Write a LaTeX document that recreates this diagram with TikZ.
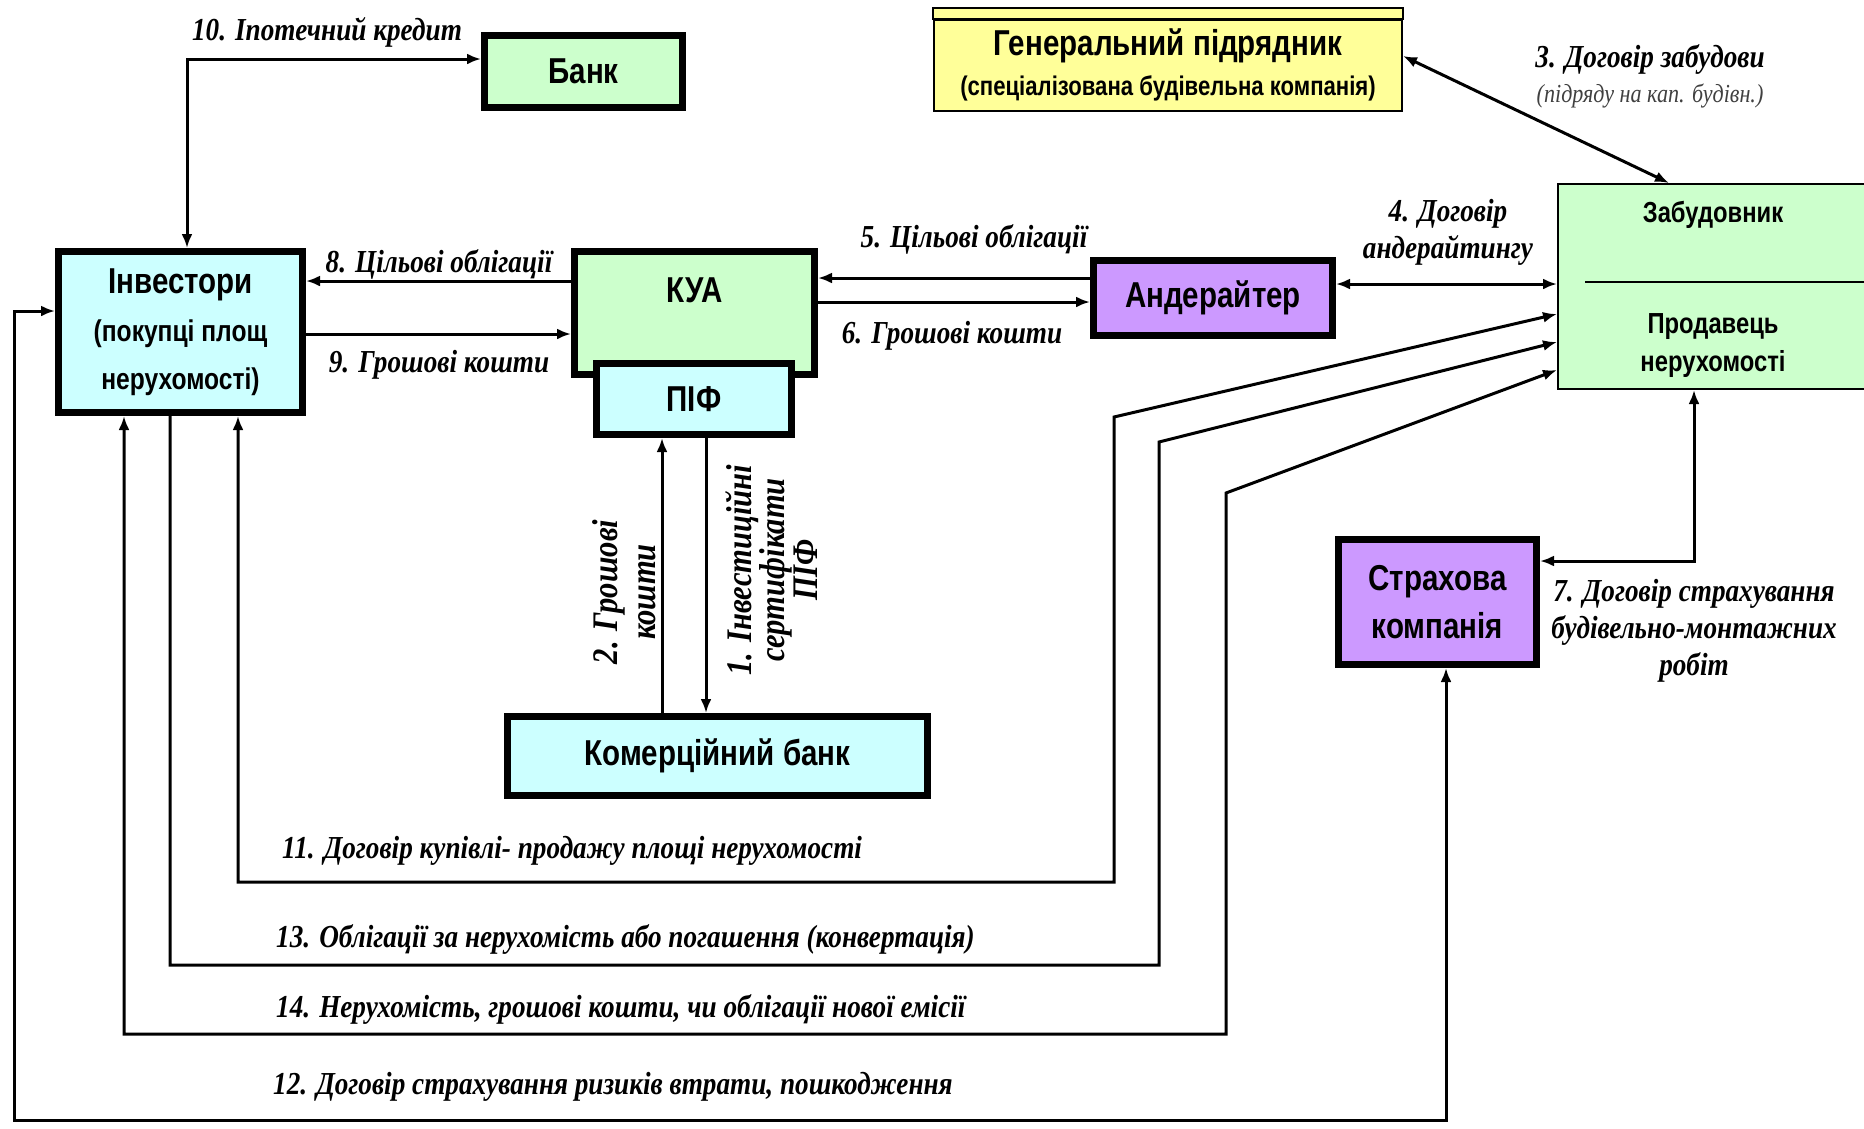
\documentclass[tikz,border=0pt]{standalone}
\usepackage{fontspec}
\setmainfont{Liberation Serif}
\newfontfamily\boxfont[FakeStretch=0.82]{Liberation Sans}
\newfontfamily\lblfont[FakeStretch=0.85]{Liberation Serif}
\usetikzlibrary{arrows.meta, calc}

\definecolor{kcyan}{HTML}{CCFFFF}
\definecolor{kgreen}{HTML}{CCFFCC}
\definecolor{kviolet}{HTML}{CC99FF}
\definecolor{kyellow}{HTML}{FFFF99}

\begin{document}
\begin{tikzpicture}[x=1pt, y=-1pt,
  box/.style={draw, line width=7pt, inner sep=0pt, align=center,
    font=\boxfont\bfseries\fontsize{36}{48}\selectfont},
  thinbox/.style={draw, line width=2pt, inner sep=0pt, align=center},
  zabtext/.style={font=\boxfont\bfseries\fontsize{29}{38}\selectfont, align=center},
  lbl/.style={font=\lblfont\bfseries\itshape\fontsize{32}{37}\selectfont,
    inner sep=0pt, align=center},
  link/.style={line width=3pt, -{Latex[length=14pt,width=11pt]}},
  both/.style={line width=3pt,
    {Latex[length=14pt,width=11pt]}-{Latex[length=14pt,width=11pt]}}
]
\useasboundingbox (0,0) rectangle (1864,1128);

% Учасники
\node[box, fill=kgreen, minimum width=198, minimum height=72] (bank) at (583.5,71.5) {Банк};
\node[box, fill=kcyan, minimum width=244, minimum height=161] (inv) at (180.5,332)
  {Інвестори\\{\fontsize{30}{43}\selectfont (покупці площ}\\{\fontsize{30}{43}\selectfont нерухомості)}};
\node[box, fill=kgreen, minimum width=240, minimum height=123,
  text height=26, text depth=48] (kua) at (694.5,313) {КУА};
\node[box, fill=kcyan, minimum width=195, minimum height=71] (pif) at (694,399) {ПІФ};
\node[box, fill=kviolet, minimum width=239, minimum height=75] (und) at (1213,298) {Андерайтер};
\node[box, fill=kviolet, minimum width=198, minimum height=125] (ins) at (1437.5,602) {Страхова\\компанія};
\node[box, fill=kcyan, minimum width=420, minimum height=79] (cb) at (717.5,756) {Комерційний банк};

% Генеральний підрядник
\node[thinbox, fill=kyellow, minimum width=468, minimum height=91,
  font=\boxfont\bfseries\fontsize{36}{40}\selectfont] (gen) at (1168,65)
  {Генеральний підрядник\\{\fontsize{27}{30}\selectfont (спеціалізована будівельна компанія)}};
\draw[thinbox, fill=kyellow] (gen.north west) rectangle ($(gen.north east)+(0,-11)$);

% Забудовник
\node[thinbox, fill=kgreen, minimum width=310, minimum height=205] (zab) at (1713,286.5) {};
\draw[line width=2pt] ($(zab.west |- 0,282)+(28,0)$) -- (zab.east |- 0,282);
\node[zabtext] (zabname) at (1713,215) {Забудовник};
\node[zabtext] (seller) at (1713,346) {Продавець\\нерухомості};

% 10
\coordinate (k10) at (187,59);
\draw[both] (inv.north -| k10) -- (k10) -- (bank.west |- k10);
\node[lbl] (l10) at (327,32) {10. Іпотечний кредит};

% 8, 9
\draw[link] (kua.west |- 0,281) -- (inv.east |- 0,281);
\draw[link] (inv.east |- 0,334) -- (kua.west |- 0,334);
\node[lbl] (l8) at (439,264) {8. Цільові облігації};
\node[lbl] (l9) at (439,365) {9. Грошові кошти};

% 5, 6
\draw[link] (und.west |- 0,278) -- (kua.east |- 0,278);
\draw[link] (kua.east |- 0,302) -- (und.west |- 0,302);
\node[lbl] (l5) at (974,239) {5. Цільові облігації};
\node[lbl] (l6) at (952,336) {6. Грошові кошти};

% 4
\draw[both] (und.east |- 0,284) -- (zab.west |- 0,284);
\node[lbl] (l4) at (1448,232) {4. Договір\\андерайтингу};

% 3
\draw[both] (gen.east |- 0,56) -- (zab.north -| 1669,0);
\node[lbl] (l3) at (1650,59) {3. Договір забудови};
\node[lbl, font=\lblfont\itshape\fontsize{26}{30}\selectfont, text=black!75] (l3b) at (1650,96)
  {(підряду на кап. будівн.)};

% 7
\draw[both] (ins.east |- 0,561) -| (zab.south -| 1694,0);
\node[lbl] (l7) at (1694,631) {7. Договір страхування\\будівельно-монтажних\\робіт};

% 1, 2
\draw[link] (cb.north -| 662,0) -- (pif.south -| 662,0);
\draw[link] (pif.south -| 706,0) -- (cb.north -| 706,0);
\node[lbl, rotate=90, font=\lblfont\bfseries\itshape\fontsize{36}{38}\selectfont] (l2) at (624,592) {2. Грошові\\кошти};
\node[lbl, rotate=90, font=\lblfont\bfseries\itshape\fontsize{36}{33}\selectfont] (l1) at (772,570) {1. Інвестиційні\\сертифікати\\ПІФ};

% 11, 13, 14
\draw[both] (inv.south -| 238,0) -- (238,882) -- (1114,882) -- (1114,417) -- (zab.west |- 0,314);
\draw[link] (inv.south -| 170,0) -- (170,965) -- (1159,965) -- (1159,442) -- (zab.west |- 0,342);
\draw[both] (inv.south -| 124,0) -- (124,1034) -- (1226,1034) -- (1226,493) -- (zab.west |- 0,370);
\node[lbl, anchor=west] (l11) at (282,851) {11. Договір купівлі- продажу площі нерухомості};
\node[lbl, anchor=west] (l13) at (276,939) {13. Облігації за нерухомість або погашення (конвертація)};
\node[lbl, anchor=west] (l14) at (276,1009) {14. Нерухомість, грошові кошти, чи облігації нової емісії};

% 12
\draw[both] (ins.south -| 1446,0) -- (1446,1120) -- (14,1120) -- (14,311) -- (inv.west |- 0,311);
\node[lbl, anchor=west] (l12) at (273,1087) {12. Договір страхування ризиків втрати, пошкодження};

\end{tikzpicture}
\end{document}
